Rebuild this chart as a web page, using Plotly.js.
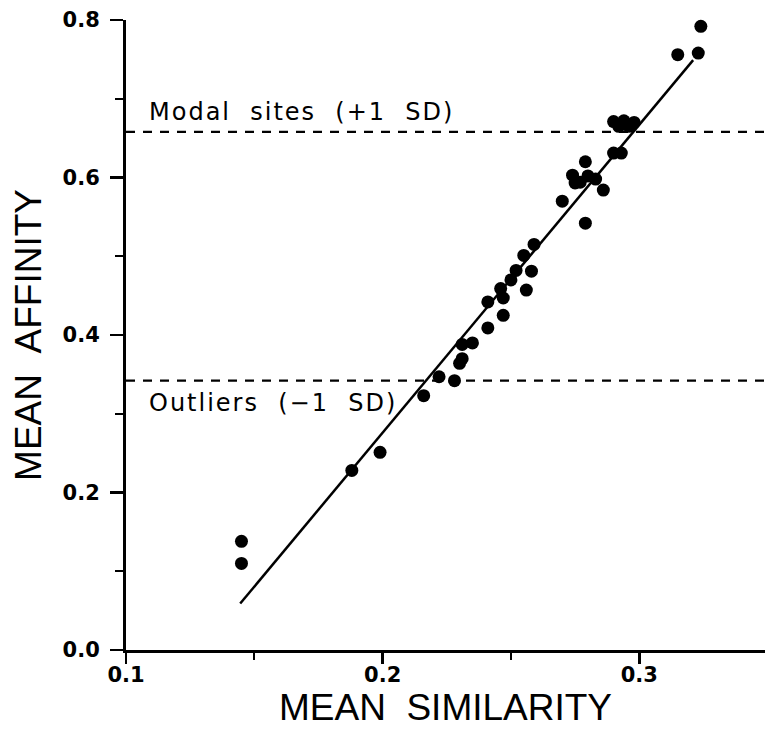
<!DOCTYPE html>
<html>
<head>
<meta charset="utf-8">
<script src="https://cdn.plot.ly/plotly-3.0.1.min.js"></script>
<style>
  html, body { margin: 0; padding: 0; background: #fff; }
  #chart { width: 765px; height: 730px; }
  .annotation-text { letter-spacing: 2px; }
</style>
</head>
<body>
<div id="chart"></div>
<script>
// Mean similarity (x) and mean affinity (y) for each site
const simX = [0.324, 0.315, 0.323, 0.290, 0.294, 0.298, 0.292, 0.296, 0.290, 0.293,
              0.279, 0.274, 0.275, 0.280, 0.283, 0.286, 0.277, 0.270, 0.279, 0.259,
              0.255, 0.258, 0.252, 0.250, 0.256, 0.246, 0.247, 0.241, 0.247, 0.241,
              0.235, 0.231, 0.231, 0.230, 0.222, 0.228, 0.216, 0.199, 0.188, 0.145,
              0.145];
const affY = [0.792, 0.756, 0.758, 0.671, 0.672, 0.670, 0.665, 0.665, 0.631, 0.631,
              0.620, 0.603, 0.593, 0.602, 0.598, 0.584, 0.594, 0.570, 0.542, 0.515,
              0.501, 0.481, 0.482, 0.470, 0.457, 0.459, 0.447, 0.442, 0.425, 0.409,
              0.390, 0.388, 0.370, 0.364, 0.347, 0.342, 0.323, 0.251, 0.228, 0.138,
              0.110];
// Fitted line endpoints
const fitX = [0.1445, 0.321];
const fitY = [0.059, 0.749];
// +1 SD / -1 SD reference levels and their labels
const sdLevels = [0.658, 0.342];
const sdLabels = ['Modal\u00a0\u00a0sites\u00a0\u00a0(+1\u00a0\u00a0SD)', 'Outliers\u00a0\u00a0(\u22121\u00a0\u00a0SD)'];
const sdLabelY = [0.683, 0.3136];
// axis ticks
const xTicks = [0.1, 0.2, 0.3];
const xTickText = ['0.1', '0.2', '0.3'];
const xMinor = [0.15, 0.25];
const yTicks = [0.0, 0.2, 0.4, 0.6, 0.8];
const yTickText = ['0.0', '0.2', '0.4', '0.6', '0.8'];
const yMinor = [0.1, 0.3, 0.5, 0.7];

const tickFont = {family: 'DejaVu Sans', size: 21, color: '#000', weight: 'bold'};
const titleFont = {family: 'Liberation Sans', size: 37, color: '#000'};

const traces = [
  {
    x: fitX, y: fitY, type: 'scatter', mode: 'lines',
    line: {color: '#000', width: 2.5}, hoverinfo: 'skip', showlegend: false
  },
  {
    x: simX, y: affY, type: 'scatter', mode: 'markers',
    marker: {color: '#000', size: 13}, cliponaxis: false, showlegend: false
  }
];

const shapes = sdLevels.map(v => ({
  type: 'line', xref: 'paper', yref: 'y', x0: 0, x1: 1, y0: v, y1: v,
  line: {color: '#000', width: 2.2, dash: '9px,8px'}
}));

const annotations = sdLabels.map((t, i) => ({
  text: t, xref: 'x', yref: 'y', x: 0.1085, y: sdLabelY[i],
  xanchor: 'left', yanchor: 'middle', showarrow: false, borderpad: 0,
  font: {family: 'DejaVu Sans', size: 24, color: '#000'}
}));

const layout = {
  width: 765, height: 730,
  margin: {l: 126, r: 0, t: 20, b: 80},
  paper_bgcolor: '#fff', plot_bgcolor: '#fff',
  showlegend: false,
  xaxis: {
    range: [0.1, 0.349], showgrid: false, zeroline: false,
    showline: true, linecolor: '#000', linewidth: 3,
    ticks: 'outside', ticklen: 11, tickwidth: 2.5, tickcolor: '#000',
    tickvals: xTicks, ticktext: xTickText, tickfont: tickFont,
    ticklabelstandoff: -7,
    minor: {tickvals: xMinor, ticks: 'outside', ticklen: 7, tickwidth: 2, tickcolor: '#000', showgrid: false},
    title: {text: 'MEAN\u00a0\u00a0SIMILARITY', font: titleFont, standoff: 8},
    automargin: false
  },
  yaxis: {
    range: [0, 0.8], showgrid: false, zeroline: false,
    showline: true, linecolor: '#000', linewidth: 3,
    ticks: 'outside', ticklen: 13, tickwidth: 2.5, tickcolor: '#000',
    tickvals: yTicks, ticktext: yTickText, tickfont: tickFont,
    ticklabelstandoff: 6,
    minor: {tickvals: yMinor, ticks: 'outside', ticklen: 8, tickwidth: 2, tickcolor: '#000', showgrid: false},
    title: {text: 'MEAN\u00a0\u00a0AFFINITY', font: titleFont, standoff: 10},
    automargin: false
  },
  shapes: shapes,
  annotations: annotations
};

Plotly.newPlot('chart', traces, layout, {staticPlot: true, displayModeBar: false});
</script>
</body>
</html>
